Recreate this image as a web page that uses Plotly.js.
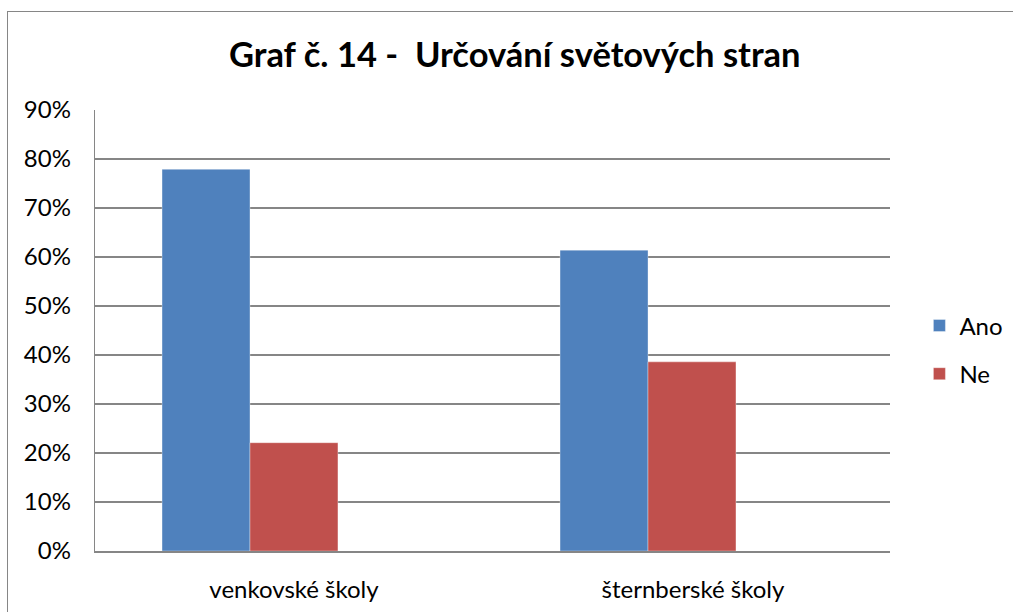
<!DOCTYPE html>
<html>
<head>
<meta charset="utf-8">
<script src="https://cdn.plot.ly/plotly-3.0.1.min.js"></script>
<style>
html,body{margin:0;padding:0;background:#fff;overflow:hidden;}
#chart{position:absolute;left:0;top:0;width:1013px;height:612px;}
#frame{position:absolute;left:7px;top:11px;width:2000px;height:2000px;border-left:1.5px solid #868686;border-top:1.5px solid #868686;pointer-events:none;}
</style>
</head>
<body>
<div id="chart"></div>
<div id="frame"></div>
<script>
const categories = ["venkovské školy", "šternberské školy"];
const seriesNames = ["Ano", "Ne"];
const anoValues = [0.779, 0.614];
const neValues = [0.221, 0.386];
const colors = ["#4F81BD", "#C0504D"];
const tickVals = [0, 0.1, 0.2, 0.3, 0.4, 0.5, 0.6, 0.7, 0.8, 0.9];
const titleText = "Graf č. 14 -  Určování světových stran";

const font = "Lato, 'Open Sans', 'Noto Sans', sans-serif";
const catIndex = categories.map((c, i) => i);
const barW = 0.221;

const traces = [anoValues, neValues].map((vals, i) => ({
  type: "bar",
  name: seriesNames[i],
  x: catIndex,
  y: vals,
  width: barW,
  offset: i === 0 ? -barW : 0,
  legendgroup: "g" + i,
  marker: {color: colors[i], line: {color: "rgba(255,255,255,0.35)", width: 1}},
  hoverinfo: "none"
}));

const layout = {
  width: 1013,
  height: 612,
  margin: {l: 95, r: 123, t: 110, b: 61, autoexpand: false},
  paper_bgcolor: "#fff",
  plot_bgcolor: "#fff",
  barmode: "overlay",
  title: {
    text: "<b>" + titleText + "</b>",
    font: {family: font, size: 34.5, color: "#000"},
    x: 0.528, xanchor: "center", xref: "paper",
    y: 0.91, yanchor: "middle", yref: "container"
  },
  font: {family: font, size: 24, color: "#000"},
  xaxis: {
    type: "linear",
    range: [-0.3894, 1.608],
    tickvals: [0.1106, 1.113],
    ticktext: categories,
    showgrid: false,
    showline: true,
    linecolor: "#868686",
    linewidth: 2,
    zeroline: false,
    ticks: "",
    tickfont: {family: font, size: 24, color: "#000"},
    ticklabelstandoff: 16
  },
  yaxis: {
    range: [0, 0.9],
    tickvals: tickVals,
    tickformat: ".0%",
    showgrid: true,
    gridcolor: "#868686",
    gridwidth: 1.3,
    showline: true,
    linecolor: "#868686",
    linewidth: 1.3,
    zeroline: false,
    ticks: "",
    ticklabelstandoff: 18,
    tickfont: {family: font, size: 24, color: "#000"}
  },
  showlegend: true,
  legend: {
    x: 1.037, xanchor: "left",
    y: 0.456, yanchor: "middle",
    font: {family: font, size: 24, color: "#000"},
    traceorder: "grouped",
    tracegroupgap: 14,
    itemwidth: 30,
    bgcolor: "rgba(0,0,0,0)"
  }
};

Plotly.newPlot("chart", traces, layout, {staticPlot: true});
</script>
</body>
</html>
